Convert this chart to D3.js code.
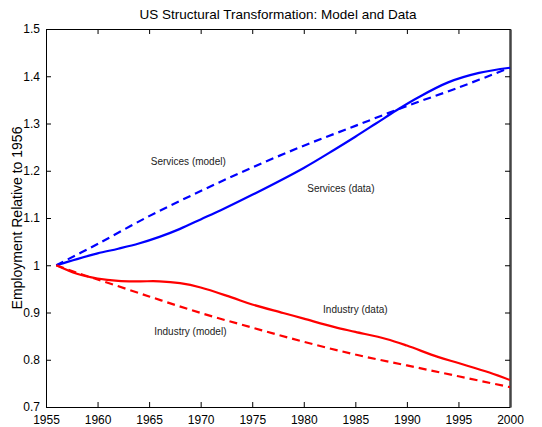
<!DOCTYPE html>
<html>
<head>
<meta charset="utf-8">
<script src="https://cdn.jsdelivr.net/npm/d3@7"></script>
<style>
  body { margin: 0; background: #fff; }
  svg { font-family: "Liberation Sans", Arial, sans-serif; }
</style>
</head>
<body>
<svg id="chart" width="542" height="427"></svg>
<script>
// data
const servicesDataYears = [1956, 1958, 1960, 1962, 1964, 1966, 1968, 1970, 1972, 1975, 1980, 1983, 1985, 1987, 1989, 1991, 1994, 1997, 2000];
const servicesData      = [1.0, 1.013, 1.025, 1.035, 1.046, 1.060, 1.077, 1.097, 1.117, 1.149, 1.206, 1.245, 1.272, 1.300, 1.328, 1.354, 1.387, 1.407, 1.418];

const servicesModelYears = [1956, 1960, 1965, 1970, 1975, 1980, 1985, 1990, 1995, 2000];
const servicesModel      = [1.0, 1.045, 1.104, 1.157, 1.207, 1.253, 1.295, 1.337, 1.376, 1.418];

const industryDataYears = [1956, 1958, 1960, 1962, 1964, 1966, 1968, 1970, 1973, 1975, 1978, 1980, 1983, 1985, 1988, 1990, 1993, 1995, 1998, 2000];
const industryData      = [1.0, 0.982, 0.972, 0.967, 0.966, 0.966, 0.962, 0.953, 0.932, 0.917, 0.899, 0.887, 0.869, 0.859, 0.844, 0.830, 0.806, 0.793, 0.773, 0.757];

const industryModelYears = [1956, 1958, 1960, 1965, 1970, 1975, 1980, 1985, 1990, 1995, 2000];
const industryModel      = [1.0, 0.984, 0.970, 0.934, 0.899, 0.868, 0.838, 0.811, 0.788, 0.765, 0.742];

const xTicks = [1955, 1960, 1965, 1970, 1975, 1980, 1985, 1990, 1995, 2000];
const yTicks = [0.7, 0.8, 0.9, 1.0, 1.1, 1.2, 1.3, 1.4, 1.5];

const labels = [
  { text: 'Services (model)', year: 1968.8, value: 1.213 },
  { text: 'Services (data)', year: 1983.6, value: 1.155 },
  { text: 'Industry (data)', year: 1985.0, value: 0.900 },
  { text: 'Industry (model)', year: 1969.0, value: 0.853 },
];

const svg = d3.select('#chart'),
      margin = { top: 29, right: 32, bottom: 20, left: 46 },
      width = +svg.attr('width') - margin.left - margin.right,
      height = +svg.attr('height') - margin.top - margin.bottom,
      g = svg.append('g').attr('transform', `translate(${margin.left}, ${margin.top})`);

const x = d3.scaleLinear().domain([1955, 2000]).range([0, width]),
      y = d3.scaleLinear().domain([0.7, 1.5]).range([height, 0]);

// title
svg.append('text')
  .attr('x', margin.left + width / 2)
  .attr('y', 19)
  .attr('text-anchor', 'middle')
  .attr('font-size', 13.5)
  .attr('fill', '#000')
  .text('US Structural Transformation: Model and Data');

// axes with inward ticks
const fmtY = (d) => (d === 1 ? '1' : d3.format('.1f')(d));

g.append('g')
  .attr('class', 'axis axis--x')
  .attr('transform', `translate(0, ${height})`)
  .call(d3.axisBottom(x).tickValues(xTicks).tickFormat(d3.format('d')).tickSizeInner(-5).tickSizeOuter(0).tickPadding(8));

g.append('g')
  .attr('class', 'axis axis--y')
  .call(d3.axisLeft(y).tickValues(yTicks).tickFormat(fmtY).tickSizeInner(-5).tickSizeOuter(0).tickPadding(6));

g.append('g')
  .attr('class', 'axis axis--top')
  .call(d3.axisTop(x).tickValues(xTicks).tickFormat('').tickSizeInner(-5).tickSizeOuter(0));

g.append('g')
  .attr('class', 'axis axis--right')
  .attr('transform', `translate(${width}, 0)`)
  .call(d3.axisRight(y).tickValues(yTicks).tickFormat('').tickSizeInner(-5).tickSizeOuter(0));

g.selectAll('.axis text').attr('font-size', 12).attr('fill', '#000').attr('font-family', '"Liberation Sans", Arial, sans-serif');
g.selectAll('.axis path, .axis line').attr('stroke', '#000');
g.select('.axis--right path').attr('stroke', '#444').attr('stroke-width', 2.5);

// y axis label
svg.append('text')
  .attr('transform', `translate(22, ${margin.top + height / 2}) rotate(-90)`)
  .attr('text-anchor', 'middle')
  .attr('font-size', 14)
  .attr('fill', '#000')
  .text('Employment Relative to 1956');

// lines
const line = d3.line()
  .x((d) => x(d[0]))
  .y((d) => y(d[1]))
  .curve(d3.curveCatmullRom.alpha(0.5));

const series = [
  { years: servicesModelYears, values: servicesModel, color: '#0000ff', dash: '8,5' },
  { years: industryModelYears, values: industryModel, color: '#ff0000', dash: '8,5' },
  { years: servicesDataYears, values: servicesData, color: '#0000ff', dash: null },
  { years: industryDataYears, values: industryData, color: '#ff0000', dash: null },
];

g.append('g')
  .attr('class', 'lines')
  .selectAll('path')
  .data(series)
  .enter().append('path')
  .attr('d', (s) => line(s.years.map((yr, i) => [yr, s.values[i]])))
  .attr('fill', 'none')
  .attr('stroke', (s) => s.color)
  .attr('stroke-width', 2.2)
  .attr('stroke-dasharray', (s) => s.dash);

// in-plot labels
g.append('g')
  .attr('class', 'labels')
  .selectAll('text')
  .data(labels)
  .enter().append('text')
  .attr('x', (d) => x(d.year))
  .attr('y', (d) => y(d.value))
  .attr('text-anchor', 'middle')
  .attr('font-size', 10)
  .attr('fill', '#222')
  .text((d) => d.text);
</script>
</body>
</html>
